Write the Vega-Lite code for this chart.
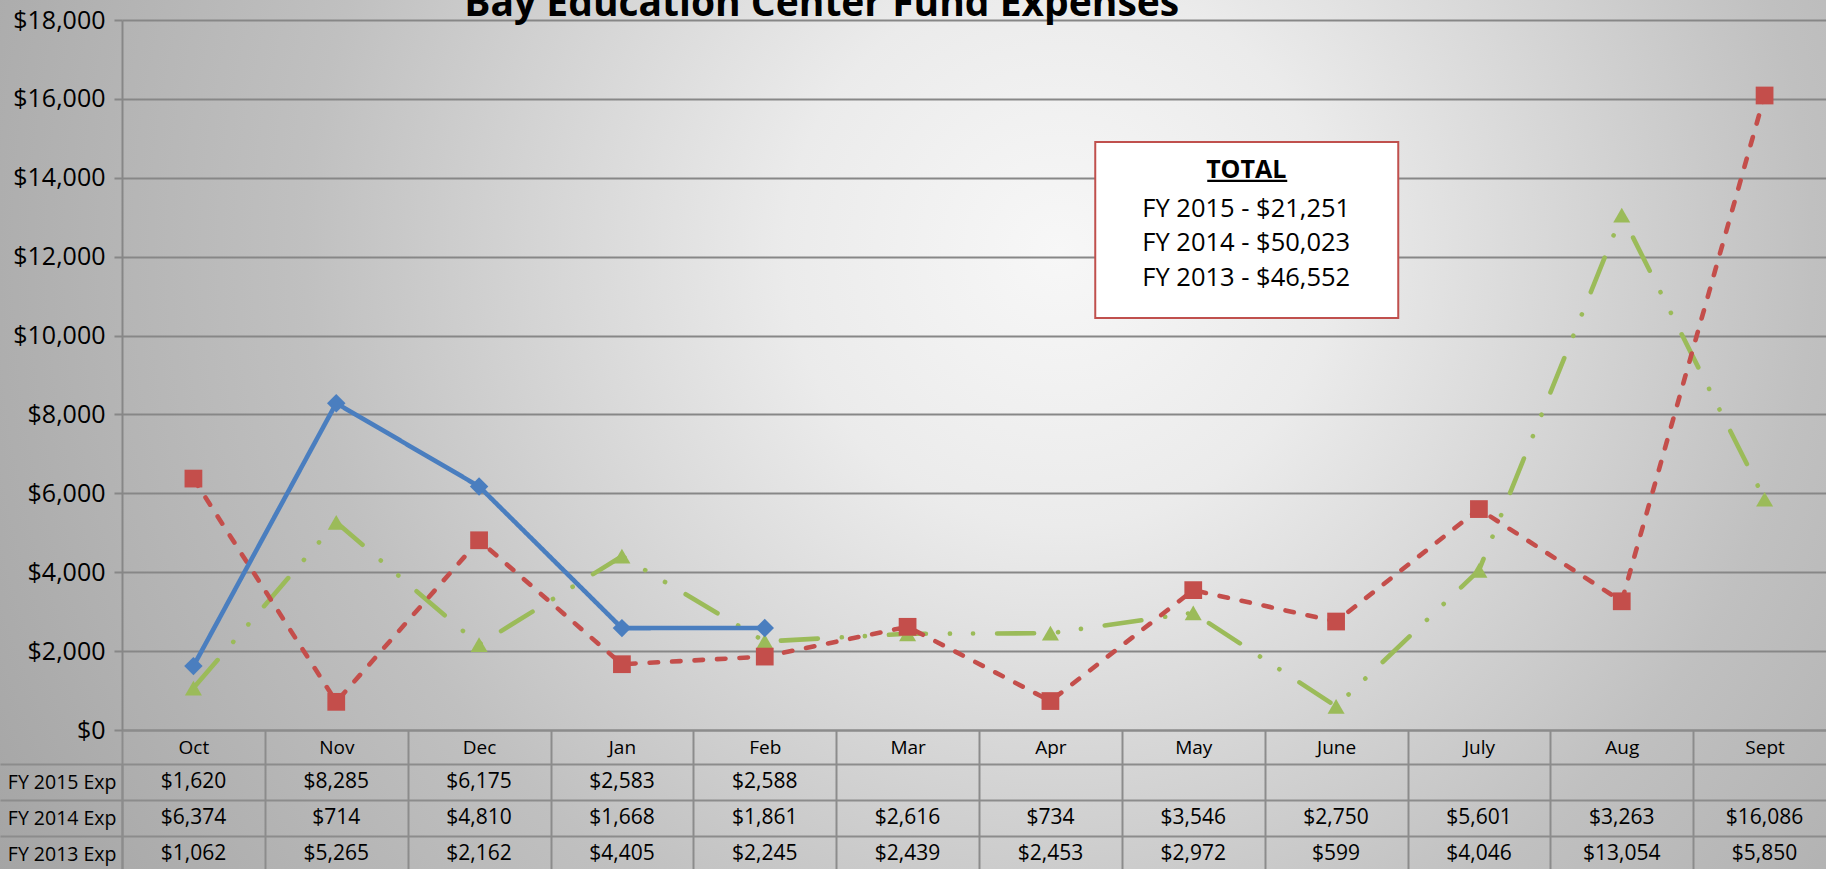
{
  "$schema": "https://vega.github.io/schema/vega-lite/v6.json",
  "width": 1826,
  "height": 869,
  "autosize": {"type": "none"},
  "padding": 0,
  "background": "#bdbdbd",
  "view": {
    "stroke": null,
    "fill": {
      "gradient": "radial",
      "x1": 0.58, "y1": 0.4, "r1": 0,
      "x2": 0.58, "y2": 0.4, "r2": 0.75,
      "stops": [
        {"offset": 0, "color": "#f7f7f7"},
        {"offset": 0.2, "color": "#ebebeb"},
        {"offset": 0.55, "color": "#c0c0c0"},
        {"offset": 1, "color": "#9c9c9c"}
      ]
    }
  },
  "config": {"font": "Open Sans", "view": {"stroke": null}},
  "datasets": {
    "exp": [
      {"series": "FY 2013 Exp", "month": "Oct", "value": 1062},
      {"series": "FY 2013 Exp", "month": "Nov", "value": 5265},
      {"series": "FY 2013 Exp", "month": "Dec", "value": 2162},
      {"series": "FY 2013 Exp", "month": "Jan", "value": 4405},
      {"series": "FY 2013 Exp", "month": "Feb", "value": 2245},
      {"series": "FY 2013 Exp", "month": "Mar", "value": 2439},
      {"series": "FY 2013 Exp", "month": "Apr", "value": 2453},
      {"series": "FY 2013 Exp", "month": "May", "value": 2972},
      {"series": "FY 2013 Exp", "month": "June", "value": 599},
      {"series": "FY 2013 Exp", "month": "July", "value": 4046},
      {"series": "FY 2013 Exp", "month": "Aug", "value": 13054},
      {"series": "FY 2013 Exp", "month": "Sept", "value": 5850},
      {"series": "FY 2014 Exp", "month": "Oct", "value": 6374},
      {"series": "FY 2014 Exp", "month": "Nov", "value": 714},
      {"series": "FY 2014 Exp", "month": "Dec", "value": 4810},
      {"series": "FY 2014 Exp", "month": "Jan", "value": 1668},
      {"series": "FY 2014 Exp", "month": "Feb", "value": 1861},
      {"series": "FY 2014 Exp", "month": "Mar", "value": 2616},
      {"series": "FY 2014 Exp", "month": "Apr", "value": 734},
      {"series": "FY 2014 Exp", "month": "May", "value": 3546},
      {"series": "FY 2014 Exp", "month": "June", "value": 2750},
      {"series": "FY 2014 Exp", "month": "July", "value": 5601},
      {"series": "FY 2014 Exp", "month": "Aug", "value": 3263},
      {"series": "FY 2014 Exp", "month": "Sept", "value": 16086},
      {"series": "FY 2015 Exp", "month": "Oct", "value": 1620},
      {"series": "FY 2015 Exp", "month": "Nov", "value": 8285},
      {"series": "FY 2015 Exp", "month": "Dec", "value": 6175},
      {"series": "FY 2015 Exp", "month": "Jan", "value": 2583},
      {"series": "FY 2015 Exp", "month": "Feb", "value": 2588}
    ]
  },
  "layer": [
    {
      "layer": [
        {
          "data": {"name": "exp"},
          "mark": {"type": "line", "strokeWidth": 4.6, "strokeCap": "round", "strokeJoin": "round"},
          "encoding": {
            "x": {
              "field": "month", "type": "nominal", "bandPosition": 0.5,
              "scale": {"type": "band", "domain": ["Oct","Nov","Dec","Jan","Feb","Mar","Apr","May","June","July","Aug","Sept"], "range": [122, 1836], "paddingInner": 0, "paddingOuter": 0},
              "axis": {
                "orient": "bottom", "offset": -139, "title": null,
                "tickBand": "extent", "tickSize": 142, "tickColor": "#8c8c8c", "tickWidth": 2,
                "domainColor": "#8c8c8c", "domainWidth": 2,
                "labelFont": "Open Sans", "labelFontSize": 19, "labelColor": "#000000",
                "labelBaseline": "middle", "labelPadding": -125, "labelAngle": 0, "grid": false
              }
            },
            "y": {
              "field": "value", "type": "quantitative",
              "scale": {"domain": [0, 18000], "range": [730, 20], "nice": false, "zero": true},
              "axis": {
                "orient": "left", "offset": -122, "title": null,
                "values": [0,2000,4000,6000,8000,10000,12000,14000,16000,18000],
                "format": "$,.0f",
                "grid": true, "gridColor": "#878787", "gridWidth": 2,
                "domainColor": "#878787", "domainWidth": 2,
                "tickColor": "#878787", "tickWidth": 2, "tickSize": 8,
                "labelFont": "Open Sans", "labelFontSize": 25, "labelColor": "#000000", "labelPadding": 9
              }
            },
            "color": {
              "field": "series", "type": "nominal",
              "scale": {"domain": ["FY 2015 Exp","FY 2014 Exp","FY 2013 Exp"], "range": ["#4a7ebf","#c44e4b","#9bbb59"]},
              "legend": null
            },
            "strokeDash": {
              "field": "series", "type": "nominal",
              "scale": {"domain": ["FY 2015 Exp","FY 2014 Exp","FY 2013 Exp"], "range": [[1,0],[8.5,14],[37,24,0.1,23,0.1,24]]},
              "legend": null
            }
          }
        },
        {
          "data": {"name": "exp"},
          "mark": {"type": "point", "filled": true, "opacity": 1},
          "encoding": {
            "x": {"field": "month", "type": "nominal", "bandPosition": 0.5},
            "y": {"field": "value", "type": "quantitative"},
            "color": {"field": "series", "type": "nominal", "legend": null},
            "shape": {
              "field": "series", "type": "nominal",
              "scale": {"domain": ["FY 2015 Exp","FY 2014 Exp","FY 2013 Exp"], "range": ["diamond","square","triangle-up"]},
              "legend": null
            },
            "size": {
              "field": "series", "type": "nominal",
              "scale": {"domain": ["FY 2015 Exp","FY 2014 Exp","FY 2013 Exp"], "range": [340, 290, 440]},
              "legend": null
            }
          }
        },
        {
          "data": {"values": [{}]},
          "mark": {
            "type": "point",
            "shape": "M-0.98,-0.875H2.05V0.885H-0.98Z",
            "size": 40000,
            "filled": true,
            "fill": "#ffffff",
            "stroke": "#c0504d",
            "strokeWidth": 2,
            "opacity": 1
          },
          "encoding": {
            "x": {"datum": "May"},
            "y": {"datum": 12690}
          }
        },
        {
          "data": {"values": [{}]},
          "mark": {
            "type": "point",
            "shape": "M0.14,0H0.94",
            "size": 40000,
            "filled": false,
            "stroke": "#000000",
            "strokeWidth": 2.2,
            "opacity": 1
          },
          "encoding": {
            "x": {"datum": "May"},
            "y": {"datum": 13920}
          }
        },
        {
          "data": {"values": [{}]},
          "mark": {
            "type": "text", "text": "TOTAL", "font": "Open Sans", "fontSize": 25, "fontWeight": "bold",
            "color": "#000000", "align": "center", "baseline": "alphabetic", "dx": 53
          },
          "encoding": {
            "x": {"datum": "May"},
            "y": {"datum": 13994}
          }
        },
        {
          "data": {"values": [{}]},
          "mark": {
            "type": "text", "text": ["FY 2015 - $21,251", "FY 2014 - $50,023", "FY 2013 - $46,552"],
            "font": "Open Sans", "fontSize": 25.5, "lineHeight": 34.5,
            "color": "#000000", "align": "center", "baseline": "alphabetic", "dx": 53
          },
          "encoding": {
            "x": {"datum": "May"},
            "y": {"datum": 13010}
          }
        },
        {
          "data": {"values": [{}]},
          "mark": {
            "type": "text", "text": "Bay Education Center Fund Expenses",
            "font": "Open Sans", "fontSize": 39, "fontWeight": "bold",
            "color": "#000000", "align": "center", "baseline": "alphabetic", "dx": 57
          },
          "encoding": {
            "x": {"datum": "Feb"},
            "y": {"datum": 18110}
          }
        }
      ]
    },
    {
      "data": {"name": "exp"},
      "mark": {"type": "text", "font": "Open Sans", "fontSize": 21, "color": "#000000", "align": "center", "baseline": "middle"},
      "encoding": {
        "x": {"field": "month", "type": "nominal", "bandPosition": 0.5},
        "y": {
          "field": "series", "type": "nominal", "bandPosition": 0.5,
          "scale": {"type": "band", "domain": ["FY 2015 Exp","FY 2014 Exp","FY 2013 Exp"], "range": [764, 872], "paddingInner": 0, "paddingOuter": 0},
          "axis": {
            "orient": "left", "offset": -122, "title": null,
            "tickBand": "extent", "tickSize": 122, "tickColor": "#8c8c8c", "tickWidth": 2,
            "domainColor": "#8c8c8c", "domainWidth": 2,
            "grid": true, "gridColor": "#8c8c8c", "gridWidth": 2,
            "labelFont": "Open Sans", "labelFontSize": 19.5, "labelColor": "#000000",
            "labelAlign": "right", "labelBaseline": "middle", "labelPadding": -116
          }
        },
        "text": {"field": "value", "type": "quantitative", "format": "$,.0f"}
      }
    }
  ],
  "resolve": {"scale": {"y": "independent"}, "axis": {"y": "independent"}}
}
